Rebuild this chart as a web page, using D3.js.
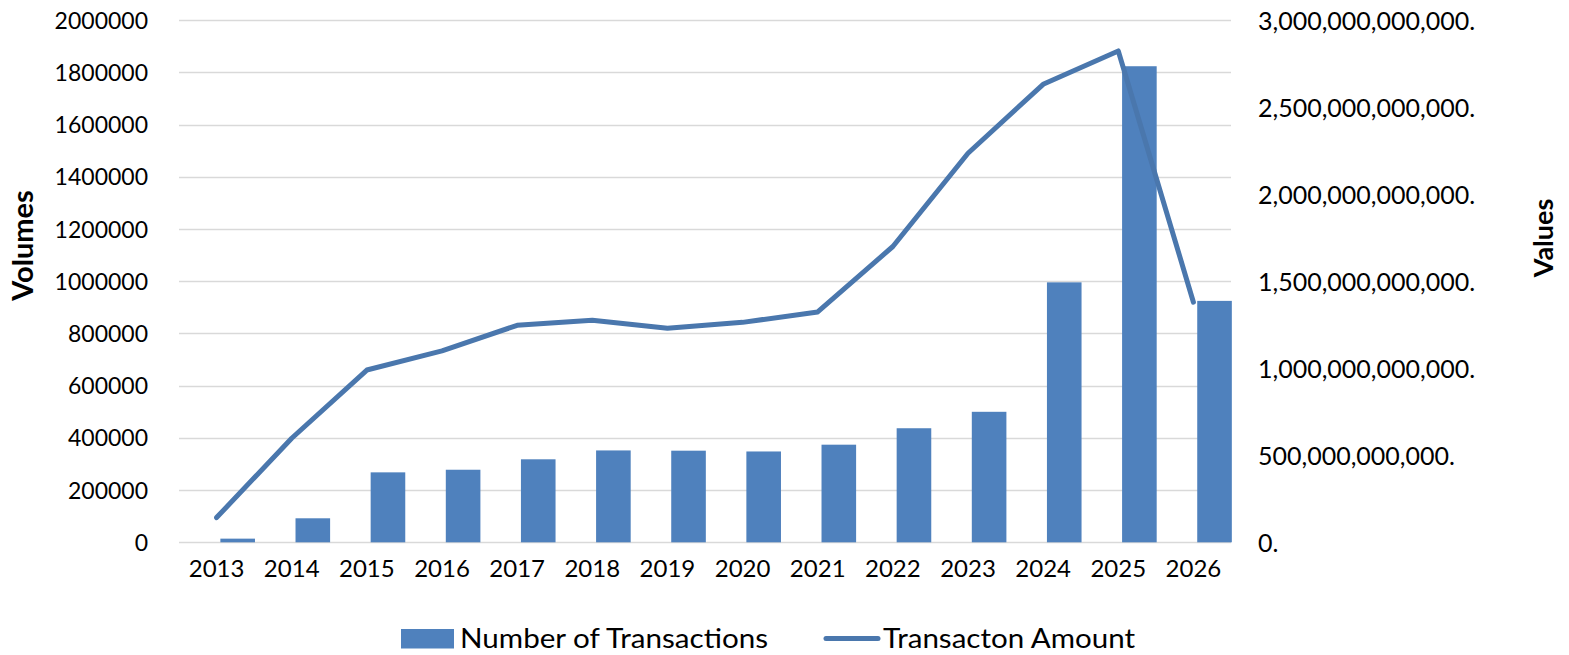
<!DOCTYPE html>
<html><head><meta charset="utf-8">
<script src="https://cdn.jsdelivr.net/npm/d3@7"></script>
<style>body{margin:0;background:#fff}svg{display:block}text{font-family:Lato,"Open Sans",sans-serif;fill:#000}</style>
</head><body>
<script>
const years = ["2013","2014","2015","2016","2017","2018","2019","2020","2021","2022","2023","2024","2025","2026"];
const transactions = [14000,92000,268000,278000,318000,352000,351000,348000,374000,437000,500000,996000,1824000,925000];
const amounts = [142e9,598e9,990e9,1100e9,1247e9,1276e9,1230e9,1264e9,1324e9,1700e9,2236e9,2632e9,2824e9,1380e9];
const leftTicks = [0,200000,400000,600000,800000,1000000,1200000,1400000,1600000,1800000,2000000];
const rightTicks = [0,500e9,1000e9,1500e9,2000e9,2500e9,3000e9];
const seriesNames = ["Number of Transactions","Transacton Amount"];
const axisTitles = ["Volumes","Values"];

const W=1569,H=655;
const m={left:179,right:W-1231,top:20.3,bottom:H-542.3};
const svg=d3.select("body").append("svg").attr("width",W).attr("height",H);
const x=d3.scaleBand().domain(years).range([m.left,W-m.right]).padding(0);
const yL=d3.scaleLinear().domain([0,2000000]).range([H-m.bottom,m.top]);
const yR=d3.scaleLinear().domain([0,3000e9]).range([H-m.bottom,m.top]);
const barColor="#4f81bd", lineColor="#4a77ad";

// gridlines
svg.append("g").selectAll("line").data(leftTicks).join("line")
  .attr("x1",m.left).attr("x2",W-m.right)
  .attr("y1",d=>Math.round(yL(d))+0.5).attr("y2",d=>Math.round(yL(d))+0.5)
  .attr("stroke","#d9d9d9").attr("stroke-width",1.3);

// left axis
const gl=svg.append("g").attr("transform",`translate(${m.left},0)`)
  .call(d3.axisLeft(yL).tickValues(leftTicks).tickFormat(d3.format("d")).tickSize(0).tickPadding(31));
gl.select(".domain").remove();
gl.selectAll("text").style("font-size","23px").attr("dy","0.35em");

// right axis
const gr=svg.append("g").attr("transform",`translate(${W-m.right},0)`)
  .call(d3.axisRight(yR).tickValues(rightTicks).tickFormat(d=>d3.format(",.0f")(d)+".").tickSize(0).tickPadding(27));
gr.select(".domain").remove();
gr.selectAll("text").style("font-size","25px").attr("dy","0.35em");

// x axis
const gx=svg.append("g").attr("transform",`translate(0,${H-m.bottom})`)
  .call(d3.axisBottom(x).tickSize(0).tickPadding(26));
gx.select(".domain").remove();
gx.selectAll("text").style("font-size","24px").attr("dy","0.35em");

// bars
const bw=34.6, boff=3.8;
svg.append("g").selectAll("rect").data(years).join("rect")
  .attr("x",(d)=>x(d)+x.bandwidth()/2+boff).attr("width",bw)
  .attr("y",(d,i)=>yL(transactions[i])).attr("height",(d,i)=>yL(0)-yL(transactions[i]))
  .attr("fill",barColor);

// line
const line=d3.line().x((d,i)=>x(years[i])+x.bandwidth()/2).y(d=>yR(d));
svg.append("path").datum(amounts).attr("d",line).attr("fill","none")
  .attr("stroke",lineColor).attr("stroke-width",5).attr("stroke-linejoin","round").attr("stroke-linecap","round");

// axis titles
svg.append("text").attr("transform","translate(33,245.5) rotate(-90)").attr("text-anchor","middle")
  .style("font-size","29px").style("font-weight","bold").text(axisTitles[0]);
svg.append("text").attr("transform","translate(1553,238) rotate(-90)").attr("text-anchor","middle")
  .style("font-size","27px").style("font-weight","bold").text(axisTitles[1]);

// legend
const lg=svg.append("g");
lg.append("rect").attr("x",401).attr("y",629).attr("width",53).attr("height",19.5).attr("fill",barColor);
lg.append("text").attr("x",460).attr("y",647.5).style("font-size","26px")
  .attr("textLength",308).attr("lengthAdjust","spacingAndGlyphs").text(seriesNames[0]);
lg.append("line").attr("x1",826).attr("x2",878).attr("y1",638.5).attr("y2",638.5)
  .attr("stroke",lineColor).attr("stroke-width",5).attr("stroke-linecap","round");
lg.append("text").attr("x",883).attr("y",647.5).style("font-size","26px")
  .attr("textLength",252).attr("lengthAdjust","spacingAndGlyphs").text(seriesNames[1]);
</script>
</body></html>
